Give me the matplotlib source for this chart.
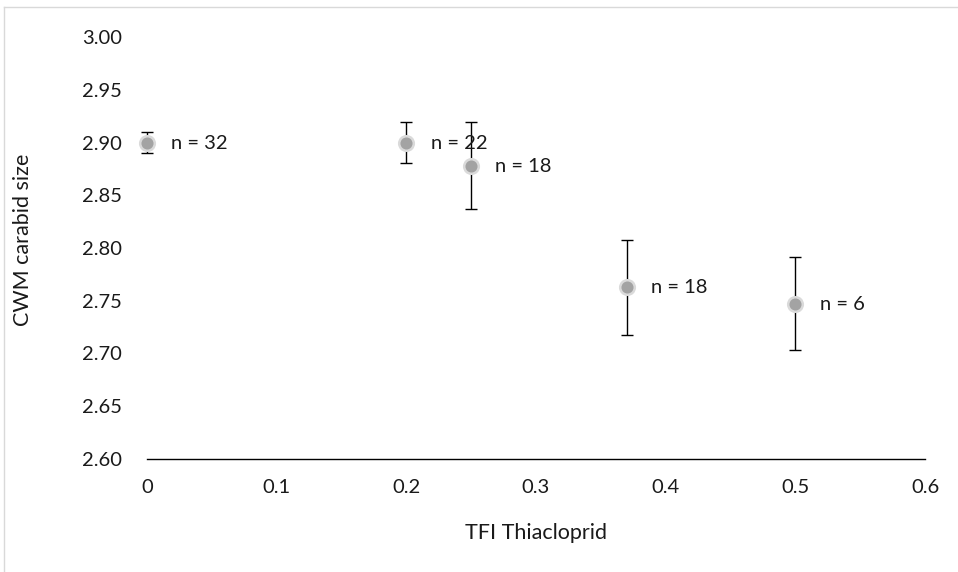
import matplotlib.pyplot as plt
from matplotlib.lines import Line2D

plt.rcParams['font.family'] = ['Lato', 'DejaVu Sans']

# data
tfi = [0.0, 0.2, 0.25, 0.37, 0.5]
cwm = [2.900, 2.900, 2.878, 2.763, 2.747]
err = [0.010, 0.019, 0.041, 0.045, 0.044]
labels = ['n = 32', 'n = 22', 'n = 18', 'n = 18', 'n = 6']

xticks = [0, 0.1, 0.2, 0.3, 0.4, 0.5, 0.6]
xticklabels = ['0', '0.1', '0.2', '0.3', '0.4', '0.5', '0.6']
yticks = [2.60, 2.65, 2.70, 2.75, 2.80, 2.85, 2.90, 2.95, 3.00]

fig = plt.figure(figsize=(9.58, 5.72), dpi=100)
ax = fig.add_axes([147/958, 113/572, 778/958, 422/572])

ax.errorbar(tfi, cwm, yerr=err, fmt='none', ecolor='black', elinewidth=1,
            capsize=4.3, capthick=1, clip_on=False, zorder=2)
ax.plot(tfi, cwm, 'o', ms=10.5, mfc='#a3a3a3', mec='#dadada', mew=1.8,
        clip_on=False, zorder=3)

for x, y, t in zip(tfi, cwm, labels):
    ax.annotate(t, (x, y), xytext=(17.5, -0.5), textcoords='offset points',
                va='center', ha='left', fontsize=14.5, color='#1a1a1a', zorder=4)

ax.set_xlim(0, 0.6)
ax.set_ylim(2.60, 3.00)
ax.set_xticks(xticks)
ax.set_xticklabels(xticklabels)
ax.set_yticks(yticks)
ax.set_yticklabels([f'{v:.2f}' for v in yticks])
ax.tick_params(length=0, labelsize=14.5, labelcolor='#1a1a1a')
ax.tick_params(axis='x', pad=14.5)
ax.tick_params(axis='y', pad=18)

for s in ['top', 'right', 'left']:
    ax.spines[s].set_visible(False)
ax.spines['bottom'].set_color('black')
ax.spines['bottom'].set_linewidth(1)

ax.set_xlabel('TFI Thiacloprid', fontsize=15.5, color='#1a1a1a', labelpad=19)
ax.set_ylabel('CWM carabid size', fontsize=15.5, color='#1a1a1a')
ax.yaxis.set_label_coords(-114/778, 0.52)

# light frame around the chart area
fig.add_artist(Line2D([4/958, 1], [1-7/572, 1-7/572], color='#d9d9d9', lw=1,
                      transform=fig.transFigure))
fig.add_artist(Line2D([4/958, 4/958], [0, 1-7/572], color='#d9d9d9', lw=1,
                      transform=fig.transFigure))

fig.savefig('out.png', dpi=100)
